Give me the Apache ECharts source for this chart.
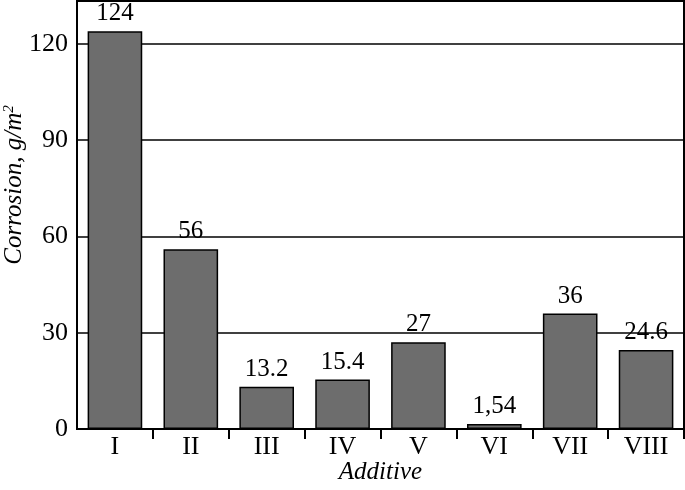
<!DOCTYPE html>
<html>
<head>
<meta charset="utf-8">
<script src="https://cdn.jsdelivr.net/npm/echarts@6/dist/echarts.min.js"></script>
<style>
  html, body { margin: 0; padding: 0; background: #fff; }
  #main { width: 685px; height: 490px; }
</style>
</head>
<body>
<div id="main"></div>
<script>
// data
var additives = ['I', 'II', 'III', 'IV', 'V', 'VI', 'VII', 'VIII'];
var corrosion = [124, 56, 13.2, 15.4, 27, 1.54, 36, 24.6];
var valueLabels = ['124', '56', '13.2', '15.4', '27', '1,54', '36', '24.6'];
var yTicks = [0, 30, 60, 90, 120];

var font = '"Liberation Serif", "Times New Roman", Times, serif';
var chart = echarts.init(document.getElementById('main'));

var option = {
    animation: false,
    grid: {
        left: 77, right: 1, top: 1, bottom: 61,
        outerBoundsMode: 'none',
        containLabel: false,
        show: true,
        borderColor: '#000',
        borderWidth: 2
    },
    xAxis: {
        type: 'category',
        data: additives,
        name: 'Additive',
        nameLocation: 'middle',
        nameMoveOverlap: false,
        nameGap: 31,
        nameTextStyle: { fontFamily: font, fontStyle: 'italic', fontSize: 25, color: '#000' },
        axisLine: { lineStyle: { color: '#000', width: 2 } },
        axisTick: {
            show: true, length: 10,
            lineStyle: { color: '#000', width: 2 },
            interval: function (i) { return i > 0; }
        },
        axisLabel: { fontFamily: font, fontSize: 26, color: '#000', margin: 5 }
    },
    yAxis: {
        type: 'value',
        min: yTicks[0],
        max: 133.4,
        interval: 30,
        name: '{i|Corrosion, g/m}{s|2}',
        nameLocation: 'middle',
        nameMoveOverlap: false,
        nameGap: 50,
        nameTextStyle: {
            padding: [0, 0, 0, 60],
            rich: {
                i: { fontFamily: font, fontStyle: 'italic', fontSize: 25, color: '#000' },
                s: { fontFamily: font, fontStyle: 'italic', fontSize: 15, color: '#000', verticalAlign: 'top', padding: [0, 0, 10, 0] }
            }
        },
        axisLine: { show: true, lineStyle: { color: '#000', width: 2 } },
        axisTick: { show: false },
        axisLabel: { fontFamily: font, fontSize: 26, color: '#000', margin: 9, showMaxLabel: false },
        splitLine: { show: true, lineStyle: { color: '#000', width: 1.5 } }
    },
    series: [{
        type: 'bar',
        data: corrosion,
        barWidth: '72%',
        itemStyle: { color: '#6d6d6d', borderColor: '#000', borderWidth: 1.5 },
        label: {
            show: true,
            position: 'top',
            distance: 5,
            fontFamily: font,
            fontSize: 25,
            color: '#000',
            formatter: function (p) { return valueLabels[p.dataIndex]; }
        }
    }]
};
chart.setOption(option);
</script>
</body>
</html>
